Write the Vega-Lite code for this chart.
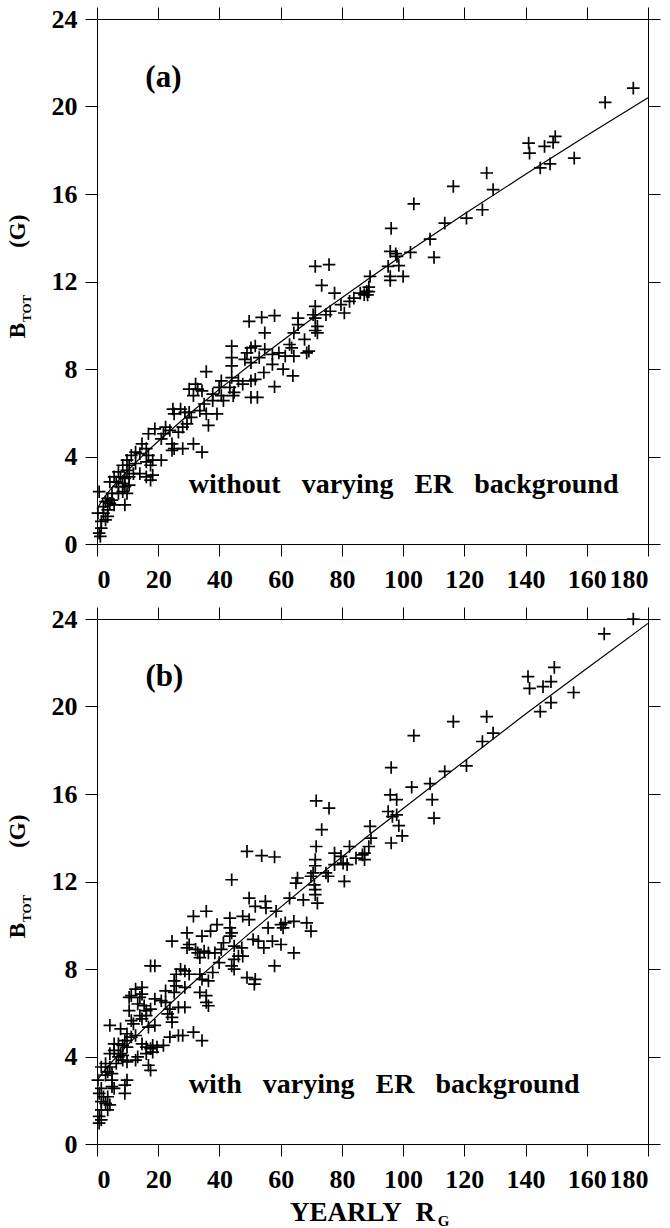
{
"$schema": "https://vega.github.io/schema/vega-lite/v6.json",
"padding": {"left": 6, "top": 6, "right": 0, "bottom": 0},
"spacing": 14,
"config": {
 "font": "'Liberation Serif', 'Times New Roman', 'DejaVu Serif', serif",
 "view": {"stroke": null},
 "axis": {"domainColor": "black", "tickColor": "black", "labelColor": "black", "labelFont": "'Liberation Serif', 'Times New Roman', 'DejaVu Serif', serif", "labelFontWeight": "bold", "labelFontSize": 26, "tickSize": 12, "grid": false, "domainWidth": 1, "tickWidth": 1},
 "text": {"font": "'Liberation Serif', 'Times New Roman', 'DejaVu Serif', serif", "fontWeight": "bold", "color": "black"}
},
"datasets": {
 "pa": [
 {"x":175.2,"y":20.84},{"x":166,"y":20.19},{"x":141,"y":18.33},{"x":141.3,"y":17.87},{"x":146.2,"y":18.18},{"x":149.7,"y":18.63},{"x":149,"y":18.36},{"x":144.8,"y":17.19},{"x":148,"y":17.38},{"x":155.9,"y":17.64},{"x":127.3,"y":16.96},{"x":129.4,"y":16.2},{"x":125.9,"y":15.28},{"x":116.4,"y":16.35},{"x":120.7,"y":14.9},{"x":113.6,"y":14.67},{"x":103.5,"y":15.55},{"x":108.8,"y":13.94},{"x":110.1,"y":13.1},{"x":96.1,"y":14.43},{"x":95.8,"y":13.38},{"x":97.6,"y":13.27},{"x":98,"y":13.15},{"x":102.4,"y":13.33},{"x":95.1,"y":12.69},{"x":98.6,"y":12.73},{"x":95.8,"y":12.23},{"x":95.8,"y":12.05},{"x":100,"y":12.23},{"x":71.3,"y":12.69},{"x":75.8,"y":12.77},{"x":73.4,"y":11.82},{"x":77.6,"y":11.47},{"x":89.2,"y":12.23},{"x":88.8,"y":11.74},{"x":88.1,"y":11.55},{"x":87.3,"y":11.4},
 {"x":82.5,"y":11.09},{"x":79.7,"y":10.94},{"x":80.8,"y":10.56},{"x":76.2,"y":10.64},{"x":74.8,"y":10.48},{"x":86,"y":11.47},{"x":88.8,"y":11.54},{"x":88.4,"y":11.39},{"x":83.9,"y":11.24},{"x":71.3,"y":10.86},{"x":70.6,"y":10.48},{"x":65.7,"y":10.33},{"x":71.3,"y":10.33},{"x":72,"y":9.95},{"x":71.3,"y":9.76},{"x":72,"y":9.65},{"x":65.7,"y":10.03},{"x":64.3,"y":9.65},{"x":49.7,"y":10.18},{"x":53.8,"y":10.36},{"x":58,"y":10.44},{"x":54.8,"y":9.65},{"x":44,"y":9.05},{"x":44,"y":8.52},{"x":44,"y":8.14},{"x":49,"y":8.74},{"x":50.3,"y":8.97},{"x":51.7,"y":9.05},{"x":48.3,"y":8.44},{"x":50.3,"y":8.29},{"x":53,"y":8.52},{"x":54.8,"y":8.9},{"x":57.3,"y":8.67},{"x":59.4,"y":8.74},{"x":61.5,"y":8.59},{"x":62.9,"y":9.12},{"x":63.6,"y":8.97},{"x":64.3,"y":8.59},{"x":67.8,"y":9.35},{"x":69.2,"y":8.82},{"x":68.5,"y":8.74},{"x":57.3,"y":8.21},{"x":60.8,"y":7.99},{"x":64,"y":7.69},{"x":58,"y":7.19},{"x":54.5,"y":7.84},{"x":51.7,"y":7.53},{"x":50.3,"y":7.46},{"x":47.6,"y":7.31},{"x":46.2,"y":7.46},{"x":44,"y":7.61},{"x":40.6,"y":7.46},{"x":39.9,"y":7.16},{"x":35.7,"y":7.88},{"x":43.4,"y":7.16},{"x":44.8,"y":6.93},{"x":44.5,"y":6.78},{"x":50.3,"y":6.7},{"x":52.4,"y":6.7},{"x":37.8,"y":6.85},{"x":40.6,"y":6.78},{"x":41.3,"y":6.55},{"x":37.8,"y":6.55},{"x":34.3,"y":7.0},{"x":32.9,"y":7.08},{"x":30.1,"y":7.08},{"x":32.2,"y":7.31},{"x":31.5,"y":6.78},{"x":35,"y":6.4},{"x":33.6,"y":6.1},{"x":35.7,"y":5.95},{"x":39.2,"y":5.95},{"x":36.4,"y":5.42},{"x":30.8,"y":5.79},{"x":30.1,"y":6.02},{"x":28.7,"y":6.02},{"x":27.3,"y":6.17},{"x":24.8,"y":6.17},{"x":25.2,"y":5.95},{"x":29.4,"y":5.49},{"x":28,"y":5.34},{"x":26.6,"y":5.11},{"x":23.8,"y":5.19},{"x":21.7,"y":5.04},{"x":18.9,"y":5.26},{"x":16.8,"y":5.04},{"x":22.4,"y":5.34},{"x":21,"y":4.81},{"x":24.5,"y":4.58},{"x":25.2,"y":4.36},{"x":28,"y":4.36},{"x":31.5,"y":4.58},{"x":34.3,"y":4.2},{"x":24.5,"y":4.28},{"x":14.7,"y":4.58},{"x":16.1,"y":4.36},{"x":14,"y":4.13},{"x":12.6,"y":4.2},{"x":11.2,"y":4.05},{"x":16.8,"y":4.05},{"x":18.2,"y":3.83},{"x":21,"y":3.83},{"x":16.1,"y":3.75},{"x":17.5,"y":3.6},{"x":9.8,"y":3.83},{"x":8.4,"y":3.6},{"x":10.5,"y":3.6},{"x":12.6,"y":3.68},{"x":9.8,"y":3.37},{"x":11.9,"y":3.22},{"x":14,"y":3.22},{"x":16.1,"y":3.07},{"x":18.2,"y":3.15},{"x":17.5,"y":2.92},{"x":7,"y":3.3},{"x":5.6,"y":3.07},{"x":7.7,"y":3.07},{"x":9.1,"y":3.0},{"x":10.5,"y":3.07},{"x":4.2,"y":2.84},{"x":6.3,"y":2.84},{"x":8.4,"y":2.77},{"x":7,"y":2.62},{"x":9.1,"y":2.62},{"x":10.5,"y":2.69},{"x":8.4,"y":2.39},{"x":9.8,"y":2.31},{"x":4.9,"y":2.31},{"x":7,"y":2.31},{"x":3.5,"y":2.09},{"x":4.9,"y":2.01},{"x":2.8,"y":1.94},{"x":4.2,"y":1.86},{"x":5.6,"y":1.79},{"x":9.1,"y":1.79},{"x":2.1,"y":1.71},{"x":3.5,"y":1.56},{"x":2.1,"y":1.41},{"x":3.5,"y":1.26},{"x":2.8,"y":1.1},{"x":1.4,"y":1.03},{"x":0.7,"y":2.39},{"x":1.4,"y":0.73},{"x":0.7,"y":0.5},{"x":0.3,"y":1.41},{"x":1.1,"y":0.35}
 ],
 "fa": [
 {"x":0,"y":1.6},{"x":2,"y":2.07},{"x":5,"y":2.6},{"x":10,"y":3.36},{"x":15,"y":4.05},{"x":20,"y":4.7},{"x":30,"y":5.93},{"x":40,"y":7.08},{"x":50,"y":8.18},{"x":60,"y":9.23},{"x":70,"y":10.27},{"x":80,"y":11.26},{"x":90,"y":12.25},{"x":100,"y":13.21},{"x":120,"y":15.09},{"x":140,"y":16.9},{"x":160,"y":18.67},{"x":180,"y":20.4}
 ],
 "pb": [
 {"x":165.7,"y":23.32},{"x":175.2,"y":24.0},{"x":140.8,"y":21.37},{"x":141.3,"y":20.83},{"x":149.4,"y":21.79},{"x":148.3,"y":21.14},{"x":145.7,"y":20.91},{"x":148.3,"y":20.18},{"x":144.8,"y":19.77},{"x":155.7,"y":20.64},{"x":127.3,"y":19.54},{"x":116.4,"y":19.31},{"x":129.4,"y":18.78},{"x":125.9,"y":18.4},{"x":103.5,"y":18.67},{"x":120.7,"y":17.29},{"x":113.6,"y":17.03},{"x":96.1,"y":17.21},{"x":102.8,"y":16.31},{"x":108.8,"y":16.47},{"x":95.8,"y":15.96},{"x":97.9,"y":15.74},{"x":109.5,"y":15.74},{"x":110.1,"y":14.9},{"x":95.1,"y":15.2},{"x":96.5,"y":14.97},{"x":97.9,"y":15.05},{"x":98.6,"y":14.55},{"x":99.7,"y":14.09},{"x":96.1,"y":13.76},{"x":89.2,"y":14.52},{"x":89.5,"y":13.98},{"x":88.8,"y":13.6},{"x":71.6,"y":15.69},{"x":75.8,"y":15.35},{"x":73.4,"y":14.37},{"x":71.6,"y":13.6},{"x":71.3,"y":13.0},{"x":71.3,"y":12.72},{"x":70.6,"y":12.39},{"x":69.9,"y":12.24},{"x":74.8,"y":12.39},{"x":75.5,"y":12.24},{"x":77.6,"y":12.77},{"x":77.6,"y":13.3},{"x":79.7,"y":13.15},{"x":80.4,"y":12.84},{"x":82.5,"y":13.6},{"x":81.7,"y":12.77},{"x":84.6,"y":13.07},{"x":86.7,"y":13.22},{"x":87.4,"y":13.3},{"x":87.4,"y":13.0},{"x":80.8,"y":12.01},{"x":49,"y":13.38},{"x":53.8,"y":13.18},{"x":58,"y":13.12},{"x":44,"y":12.08},{"x":65.5,"y":12.16},{"x":65,"y":11.93},{"x":71,"y":11.85},{"x":71.3,"y":11.63},{"x":71.3,"y":11.4},
 {"x":72,"y":11.01},{"x":67.4,"y":11.16},{"x":62.9,"y":11.24},{"x":49.7,"y":11.24},{"x":55,"y":11.09},{"x":51.7,"y":10.86},{"x":55.2,"y":10.79},{"x":58.5,"y":10.64},{"x":35.7,"y":10.64},{"x":31.5,"y":10.41},{"x":43.4,"y":10.33},{"x":47.6,"y":10.41},{"x":49.7,"y":10.26},{"x":39.2,"y":10.03},{"x":37.1,"y":9.73},{"x":29.4,"y":9.65},{"x":24.5,"y":9.27},{"x":43.4,"y":9.88},{"x":44,"y":9.65},{"x":43.4,"y":9.5},{"x":34.3,"y":9.5},{"x":60.1,"y":10.03},{"x":61.5,"y":10.11},{"x":60.8,"y":9.88},{"x":64.3,"y":10.18},{"x":68.5,"y":10.11},{"x":69.9,"y":9.73},{"x":55.9,"y":9.88},{"x":51,"y":9.35},{"x":52.7,"y":9.27},{"x":54.5,"y":8.97},{"x":57.3,"y":9.27},{"x":60.1,"y":9.12},{"x":64.3,"y":8.74},{"x":58,"y":8.14},{"x":41.3,"y":9.2},{"x":40.6,"y":8.9},{"x":38.5,"y":8.74},{"x":44.8,"y":9.05},{"x":47.3,"y":8.97},{"x":46.2,"y":8.59},{"x":47.6,"y":8.59},{"x":44.8,"y":8.44},{"x":44,"y":8.14},{"x":44.8,"y":7.99},{"x":49,"y":7.61},{"x":51.7,"y":7.53},{"x":51.4,"y":7.31},{"x":30.1,"y":9.12},{"x":29.4,"y":8.97},{"x":32.2,"y":8.9},{"x":32.9,"y":8.74},{"x":33.6,"y":8.52},{"x":35,"y":8.82},{"x":36.4,"y":8.74},{"x":39.9,"y":8.29},{"x":37.8,"y":7.84},{"x":36.4,"y":7.46},{"x":33.6,"y":7.76},{"x":34.3,"y":7.53},{"x":30.1,"y":7.76},{"x":27.3,"y":7.99},{"x":28.7,"y":7.91},{"x":25.9,"y":7.76},{"x":25.2,"y":7.46},{"x":25.9,"y":7.23},{"x":28.7,"y":7.16},{"x":25.2,"y":6.93},{"x":22.4,"y":7.0},{"x":33.6,"y":6.93},{"x":35.7,"y":6.78},{"x":35.7,"y":6.47},{"x":36.4,"y":6.32},{"x":28.7,"y":6.25},{"x":26.6,"y":6.25},{"x":23.8,"y":6.17},{"x":23.1,"y":5.95},{"x":24.5,"y":5.79},{"x":24.5,"y":5.57},{"x":17.5,"y":8.14},{"x":18.9,"y":8.14},{"x":12.6,"y":7.08},{"x":14.7,"y":7.16},{"x":10.5,"y":6.7},{"x":11.2,"y":6.78},{"x":14,"y":6.7},{"x":14.7,"y":6.85},{"x":18.9,"y":6.63},{"x":15.4,"y":6.32},{"x":16.1,"y":6.1},{"x":17.5,"y":6.17},{"x":13.3,"y":6.4},{"x":10.5,"y":6.1},{"x":14,"y":5.87},{"x":16.1,"y":5.87},{"x":14.7,"y":5.72},{"x":16.8,"y":5.34},{"x":18.9,"y":5.42},{"x":21,"y":6.55},{"x":22.4,"y":6.47},{"x":11.9,"y":5.49},{"x":11.2,"y":5.64},{"x":9.8,"y":5.04},{"x":7.7,"y":5.26},{"x":4.2,"y":5.42},{"x":9.1,"y":4.73},{"x":7,"y":4.58},{"x":5.6,"y":4.58},{"x":8.4,"y":4.51},{"x":9.8,"y":4.43},{"x":11.2,"y":4.89},{"x":12.6,"y":4.96},{"x":14.7,"y":4.58},{"x":16.1,"y":4.43},{"x":17.5,"y":4.36},{"x":18.2,"y":4.51},{"x":19.6,"y":4.43},{"x":21.7,"y":4.51},{"x":23.8,"y":4.89},{"x":26.6,"y":4.96},{"x":28,"y":4.96},{"x":31.5,"y":5.11},{"x":34.3,"y":4.73},{"x":16.1,"y":4.13},{"x":18.2,"y":4.2},{"x":13.3,"y":3.98},{"x":12.6,"y":3.83},{"x":16.8,"y":3.6},{"x":17.5,"y":3.37},{"x":5.6,"y":4.28},{"x":4.2,"y":4.13},{"x":7.7,"y":4.13},{"x":7,"y":3.98},{"x":8.4,"y":4.05},{"x":8.4,"y":3.83},{"x":9.8,"y":3.75},{"x":6.3,"y":3.68},{"x":4.2,"y":3.52},{"x":2.8,"y":3.68},{"x":1.4,"y":3.52},{"x":3.5,"y":3.3},{"x":4.9,"y":3.22},{"x":2.8,"y":3.15},{"x":4.9,"y":2.92},{"x":5.6,"y":2.54},{"x":4.9,"y":2.62},{"x":9.8,"y":2.92},{"x":9.1,"y":2.69},{"x":9.1,"y":2.31},{"x":1.4,"y":2.54},{"x":0.7,"y":2.31},{"x":2.1,"y":2.16},{"x":3.5,"y":2.16},{"x":1.4,"y":1.94},{"x":2.8,"y":1.86},{"x":4.2,"y":1.79},{"x":3.5,"y":1.56},{"x":1.4,"y":1.56},{"x":0.7,"y":1.26},{"x":1.4,"y":1.1},{"x":0.7,"y":0.95},{"x":0.3,"y":2.92}
 ],
 "fb": [
 {"x":0,"y":2.9},{"x":2,"y":3.29},{"x":5,"y":3.78},{"x":10,"y":4.53},{"x":15,"y":5.23},{"x":20,"y":5.9},{"x":30,"y":7.2},{"x":40,"y":8.44},{"x":50,"y":9.65},{"x":60,"y":10.83},{"x":70,"y":11.99},{"x":80,"y":13.12},{"x":90,"y":14.25},{"x":100,"y":15.34},{"x":120,"y":17.5},{"x":140,"y":19.66},{"x":160,"y":21.74},{"x":180,"y":23.8}
 ]
},
"vconcat": [
 {
 "width": 551, "height": 525,
 "layer": [
  {"data": {"name": "pa"},
   "mark": {"type": "point", "shape": "M-1,0L1,0M0,-1L0,1", "size": 160, "stroke": "black", "strokeWidth": 1.7, "filled": false, "opacity": 1},
   "encoding": {
    "x": {"field": "x", "type": "quantitative", "scale": {"domain": [0, 180], "nice": false, "zero": false}, "axis": {"orient": "bottom", "values": [0,20,40,60,80,100,120,140,160,180], "labelPadding": 10, "title": null}},
    "y": {"field": "y", "type": "quantitative", "scale": {"domain": [0, 24], "nice": false, "zero": false}, "axis": {"orient": "left", "values": [0,4,8,12,16,20,24], "labelPadding": 8, "title": null}}}},
  {"data": {"name": "fa"},
   "mark": {"type": "line", "color": "black", "strokeWidth": 1.2},
   "encoding": {
    "x": {"field": "x", "type": "quantitative", "axis": {"orient": "top", "labels": false, "values": [0,20,40,60,80,100,120,140,160,180], "title": null}},
    "y": {"field": "y", "type": "quantitative", "axis": {"orient": "right", "labels": false, "values": [0,4,8,12,16,20,24], "title": null}}}},
  {"data": {"values": [{"x": 21.7, "y": 21.3, "t": "(a)"}]},
   "mark": {"type": "text", "fontSize": 31, "align": "center", "baseline": "middle"},
   "encoding": {"x": {"field": "x", "type": "quantitative", "axis": null}, "y": {"field": "y", "type": "quantitative", "axis": null}, "text": {"field": "t"}}},
  {"data": {"values": [{"x": 30, "y": 2.69, "t": "without\u00a0\u00a0\u00a0varying\u00a0\u00a0\u00a0ER\u00a0\u00a0\u00a0background"}]},
   "mark": {"type": "text", "fontSize": 28, "align": "left", "baseline": "middle"},
   "encoding": {"x": {"field": "x", "type": "quantitative", "axis": null}, "y": {"field": "y", "type": "quantitative", "axis": null}, "text": {"field": "t"}}},
  {"data": {"values": [{"x": -25.9, "y": 14.3, "t": "(G)"}, {"x": -25.9, "y": 9.76, "t": "B"}]},
   "mark": {"type": "text", "fontSize": 23, "align": "center", "baseline": "middle", "angle": 270},
   "encoding": {"x": {"field": "x", "type": "quantitative", "axis": null}, "y": {"field": "y", "type": "quantitative", "axis": null}, "text": {"field": "t"}}},
  {"data": {"values": [{"x": -22.8, "y": 10.77, "t": "TOT"}]},
   "mark": {"type": "text", "fontSize": 13, "align": "center", "baseline": "middle", "angle": 270},
   "encoding": {"x": {"field": "x", "type": "quantitative", "axis": null}, "y": {"field": "y", "type": "quantitative", "axis": null}, "text": {"field": "t"}}}
 ],
 "resolve": {"axis": {"x": "independent", "y": "independent"}}
 },
 {
 "width": 551, "height": 525,
 "layer": [
  {"data": {"name": "pb"},
   "mark": {"type": "point", "shape": "M-1,0L1,0M0,-1L0,1", "size": 160, "stroke": "black", "strokeWidth": 1.7, "filled": false, "opacity": 1},
   "encoding": {
    "x": {"field": "x", "type": "quantitative", "scale": {"domain": [0, 180], "nice": false, "zero": false}, "axis": {"orient": "bottom", "values": [0,20,40,60,80,100,120,140,160,180], "labelPadding": 10, "title": null}},
    "y": {"field": "y", "type": "quantitative", "scale": {"domain": [0, 24], "nice": false, "zero": false}, "axis": {"orient": "left", "values": [0,4,8,12,16,20,24], "labelPadding": 8, "title": null}}}},
  {"data": {"name": "fb"},
   "mark": {"type": "line", "color": "black", "strokeWidth": 1.2},
   "encoding": {
    "x": {"field": "x", "type": "quantitative", "axis": {"orient": "top", "labels": false, "values": [0,20,40,60,80,100,120,140,160,180], "title": null}},
    "y": {"field": "y", "type": "quantitative", "axis": {"orient": "right", "labels": false, "values": [0,4,8,12,16,20,24], "title": null}}}},
  {"data": {"values": [{"x": 22, "y": 21.37, "t": "(b)"}]},
   "mark": {"type": "text", "fontSize": 31, "align": "center", "baseline": "middle"},
   "encoding": {"x": {"field": "x", "type": "quantitative", "axis": null}, "y": {"field": "y", "type": "quantitative", "axis": null}, "text": {"field": "t"}}},
  {"data": {"values": [{"x": 30, "y": 2.69, "t": "with\u00a0\u00a0\u00a0varying\u00a0\u00a0\u00a0ER\u00a0\u00a0\u00a0background"}]},
   "mark": {"type": "text", "fontSize": 28, "align": "left", "baseline": "middle"},
   "encoding": {"x": {"field": "x", "type": "quantitative", "axis": null}, "y": {"field": "y", "type": "quantitative", "axis": null}, "text": {"field": "t"}}},
  {"data": {"values": [{"x": -25.9, "y": 14.3, "t": "(G)"}, {"x": -25.9, "y": 9.76, "t": "B"}]},
   "mark": {"type": "text", "fontSize": 23, "align": "center", "baseline": "middle", "angle": 270},
   "encoding": {"x": {"field": "x", "type": "quantitative", "axis": null}, "y": {"field": "y", "type": "quantitative", "axis": null}, "text": {"field": "t"}}},
  {"data": {"values": [{"x": -22.8, "y": 10.77, "t": "TOT"}]},
   "mark": {"type": "text", "fontSize": 13, "align": "center", "baseline": "middle", "angle": 270},
   "encoding": {"x": {"field": "x", "type": "quantitative", "axis": null}, "y": {"field": "y", "type": "quantitative", "axis": null}, "text": {"field": "t"}}},
  {"data": {"values": [{"x": 81.3, "y": -3.15, "t": "YEARLY"}, {"x": 107.2, "y": -3.15, "t": "R"}]},
   "mark": {"type": "text", "fontSize": 27, "align": "center", "baseline": "middle"},
   "encoding": {"x": {"field": "x", "type": "quantitative", "axis": null}, "y": {"field": "y", "type": "quantitative", "axis": null}, "text": {"field": "t"}}},
  {"data": {"values": [{"x": 113.2, "y": -3.5, "t": "G"}]},
   "mark": {"type": "text", "fontSize": 15, "align": "center", "baseline": "middle"},
   "encoding": {"x": {"field": "x", "type": "quantitative", "axis": null}, "y": {"field": "y", "type": "quantitative", "axis": null}, "text": {"field": "t"}}}
 ],
 "resolve": {"axis": {"x": "independent", "y": "independent"}}
 }
]
}
